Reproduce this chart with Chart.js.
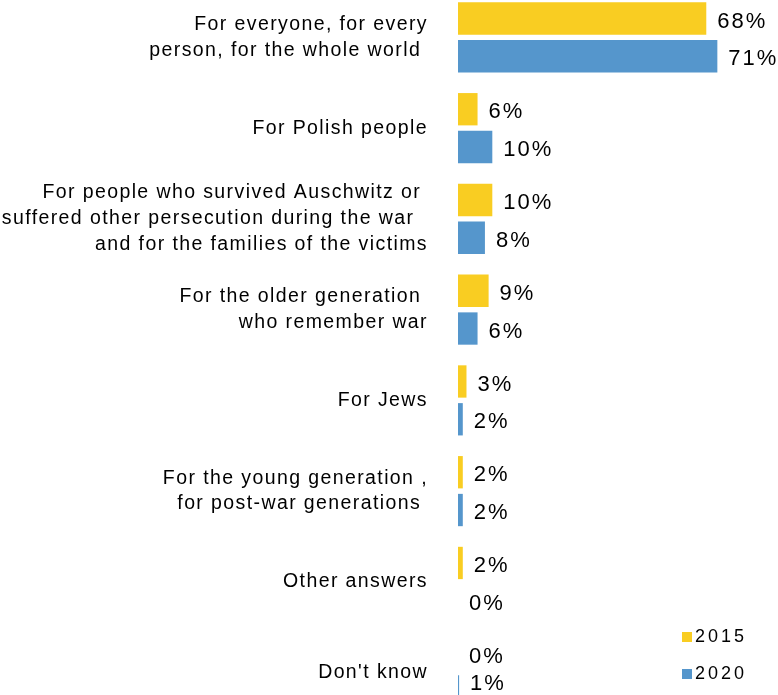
<!DOCTYPE html>
<html>
<head>
<meta charset="utf-8">
<script src="https://cdn.jsdelivr.net/npm/chart.js@4.4.7/dist/chart.umd.min.js"></script>
<style>
  html, body { margin: 0; padding: 0; background: #fff; overflow: hidden; }
  body { width: 778px; height: 695px; position: relative; }
  #wrap { position: absolute; left: 0; top: -8px; width: 778px; height: 726px; }
</style>
</head>
<body>
<div id="wrap"><canvas id="chart"></canvas></div>
<script>
const categories = [
  ['For everyone, for every', 'person, for the whole world '],
  'For Polish people',
  ['For people who survived Auschwitz or ', 'suffered other persecution during the war  ', 'and for the families of the victims'],
  ['For the older generation ', 'who remember war'],
  'For Jews',
  ['For the young generation ,', 'for post-war generations '],
  'Other answers',
  "Don't know"
];
const years = ['2015', '2020'];
const values2015 = [68, 6, 10, 9, 3, 2, 2, 0];
const values2020 = [71, 10, 8, 6, 2, 2, 0, 1];

const YELLOW = '#F9CD22';
const BLUE = '#5596CC';
const FONT = '"Liberation Sans", Arial, sans-serif';

// value labels at the end of each bar
const barLabels = {
  id: 'barLabels',
  afterDatasetsDraw(chart) {
    const ctx = chart.ctx;
    const left = chart.chartArea.left;
    const maxY = chart.height - 34; // keep the last label inside the visible page
    ctx.save();
    ctx.font = '22px ' + FONT;
    ctx.letterSpacing = '2px';
    ctx.fillStyle = '#000';
    ctx.textAlign = 'left';
    ctx.textBaseline = 'middle';
    chart.data.datasets.forEach((ds, i) => {
      chart.getDatasetMeta(i).data.forEach((bar, j) => {
        const x = Math.max(bar.x, left) + 11;
        ctx.fillText(ds.data[j] + '%', x, Math.min(bar.y + 3, maxY));
      });
    });
    ctx.restore();
  }
};

// small legend in the lower right corner
const cornerLegend = {
  id: 'cornerLegend',
  afterDraw(chart) {
    const ctx = chart.ctx;
    ctx.save();
    ctx.font = '18px ' + FONT;
    ctx.letterSpacing = '3px';
    ctx.textBaseline = 'middle';
    chart.data.datasets.forEach((ds, i) => {
      const y = 645 + i * 37;
      ctx.fillStyle = ds.backgroundColor;
      ctx.fillRect(682, y - 5, 10, 10);
      ctx.fillStyle = '#000';
      ctx.fillText(ds.label, 695, y);
    });
    ctx.restore();
  }
};

const spacing = {
  id: 'spacing',
  beforeDraw(chart) { chart.ctx.letterSpacing = '1.4px'; }
};

new Chart(document.getElementById('chart'), {
  type: 'bar',
  data: {
    labels: categories,
    datasets: [
      { label: years[0], data: values2015, backgroundColor: YELLOW },
      { label: years[1], data: values2020, backgroundColor: BLUE }
    ]
  },
  options: {
    indexAxis: 'y',
    responsive: true,
    maintainAspectRatio: false,
    animation: false,
    categoryPercentage: 0.833,
    barPercentage: 0.855,
    layout: { padding: { left: 0, right: 9, top: 0, bottom: 0 } },
    plugins: {
      legend: { display: false },
      tooltip: { enabled: false }
    },
    scales: {
      x: { display: false, min: 0.7, max: 85 },
      y: {
        grid: { display: false, drawTicks: false },
        border: { display: false },
        ticks: {
          color: '#000',
          padding: 30,
          font: { family: FONT, size: 19.5, lineHeight: 1.33 }
        },
        afterFit(scale) {
          scale.width = 458;
          scale.paddingTop = 0;
          scale.paddingBottom = 0;
        }
      }
    }
  },
  plugins: [spacing, barLabels, cornerLegend]
});
</script>
</body>
</html>
